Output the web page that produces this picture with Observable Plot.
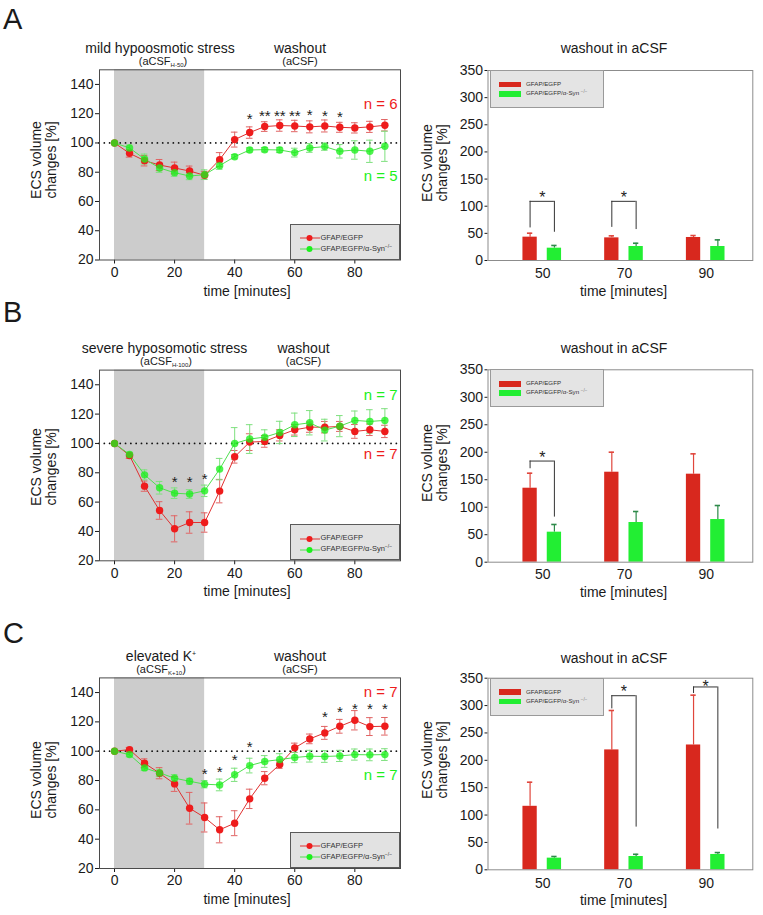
<!DOCTYPE html>
<html><head><meta charset="utf-8">
<script src="https://cdn.jsdelivr.net/npm/d3@7"></script>
<script src="https://cdn.jsdelivr.net/npm/@observablehq/plot@0.6"></script>
<style>
body{margin:0;background:#fff;}
#fig{position:relative;width:763px;height:915px;font-family:"Liberation Sans",Arial,Helvetica,sans-serif;color:#1a1a1a;overflow:hidden;background:#fff}
.t{position:absolute;white-space:nowrap;line-height:1;}
.sub{font-size:6px;vertical-align:-2px;line-height:0}
.sup{font-size:7px;vertical-align:5px;line-height:0}
.ytitle{position:absolute;white-space:nowrap;line-height:15px;font-size:14px;text-align:center;transform:translate(-50%,-50%) rotate(-90deg);}
.lleg{position:absolute;box-sizing:border-box;width:110px;height:36px;background:#e2e2e2;border:1px solid #5a5a5a;}
.rleg{position:absolute;box-sizing:border-box;width:114px;height:38px;background:#e4e4e4;border:1px solid #9a9a9a;}
.legt{position:absolute;white-space:nowrap;line-height:1;color:#333}
</style></head><body><div id="fig"></div>
<script>
const FONT = '"Liberation Sans", Arial, Helvetica, sans-serif';

// ---------- shared categories ----------
const time = [0,5,10,15,20,25,30,35,40,45,50,55,60,65,70,75,80,85,90];
const xTicksLeft = [0,20,40,60,80];
const yTicksLeft = [20,40,60,80,100,120,140];
const barTime = [50,70,90];
const yTicksRight = [0,50,100,150,200,250,300,350];
const seriesNames = ["GFAP/EGFP", "GFAP/EGFP/\u03b1-Syn"];
const koSup = "\u2212/\u2212";
const stressStart = [0];
const stressEnd = [30];

// ---------- Panel A (mild hypoosmotic stress) ----------
const A_egfp    = [100,92.9,87.9,84.9,82.9,80.8,77.9,88.6,102.3,107.1,111.2,111.9,111.6,111,111.6,110.7,110.3,111,112.1];
const A_egfpErr = [0,2.6,3.6,3.8,4,3.4,2.7,4.8,5.1,3.9,3.3,3.9,3.9,4.1,4.1,3.4,3.5,3.8,3.9];
const A_syn     = [100,96.6,89,82.9,79.7,77.4,78.3,84.5,90.6,95.2,95.4,95.2,93.4,96.6,97.5,94.3,95.2,94.3,97.7];
const A_synErr  = [0,2,3.4,3,2.5,2.5,3.3,2.5,1.5,1.5,1.5,1.8,3,3,2.5,4.6,6.3,7.6,10.3];
const A_starTime = [45,50,55,60,65,70,75];
const A_starText = ["*","**","**","**","*","*","*"];
const A_starY    = [118.7,121,121,121,121.7,121,120.3];
const A_nText = ["n = 6","n = 5"];
const A_nY    = [126.7,77.2];
const A_barEgfp = [43,41.7,42.4];
const A_barEgfpErr = [7.3,3.7,3.6];
const A_barSyn = [22.7,25.8,25.8];
const A_barSynErr = [5,6,12.2];
const A_brTime = [50,70];
const A_brLeft = [60,61];
const A_brTop = [109,109];
const A_brRight = [52,57];
const A_brStar = [123,123];

// ---------- Panel B (severe hyposmotic stress) ----------
const B_egfp    = [100,91.8,70.9,54.3,41.8,46.1,46.1,67.5,90.9,100.9,101.4,105.5,109.3,111.1,111.1,111.6,108.2,109.3,108.2];
const B_egfpErr = [0,2,3.5,6,8.9,7.3,6.6,8,4.3,5.7,4,3.8,3.6,3.5,3.9,3.4,4.7,3.9,4.2];
const B_syn     = [100,92.5,78.6,69.8,66.1,65.5,67.7,82.5,100,103,104.3,107.5,112.7,114.1,109.1,111.8,115.7,115,115.7];
const B_synErr  = [0,1.5,3.4,4.3,3.6,3,3.9,7.3,10.8,9.8,5,7.6,8,8.3,7.4,7.2,6.4,8,8];
const B_starTime = [20,25,30];
const B_starText = ["*","*","*"];
const B_starY    = [76.6,76.6,78.4];
const B_nText = ["n = 7","n = 7"];
const B_nY    = [132.7,93];
const B_barEgfp = [134.6,163.7,160.1];
const B_barEgfpErr = [27.3,36.4,37];
const B_barSyn = [54.6,72.2,77.6];
const B_barSynErr = [14,20,25.5];
const B_brTime = [50];
const B_brLeft = [170];
const B_brTop = [184];
const B_brRight = [82];
const B_brStar = [197];

// ---------- Panel C (elevated K+) ----------
const C_egfp    = [100,101.1,91.8,85,77.7,61.1,54.8,46.4,50.9,67.5,81.6,90.9,102.3,108.4,112.5,117,121.1,116.8,117];
const C_egfpErr = [0,1.5,3,3.8,5.1,10.8,9.9,8.9,8.5,6.6,4.5,2.6,3.2,3.3,4.4,4.7,6.6,6.1,6];
const C_syn     = [100,97.7,88.6,85.2,81.6,79.5,77.5,77,83.9,90.2,93,94.3,95.7,96.6,96.4,96.8,97.7,97.5,97.7];
const C_synErr  = [0,1.5,1.8,2.5,2.5,2,2.5,4,4.5,5,4,4,3.5,4,4,3.8,3.8,4,4];
const C_starTime = [30,35,40,45,70,75,80,85,90];
const C_starText = ["*","*","*","*","*","*","*","*","*"];
const C_starY    = [86.8,88.6,96.6,105.7,125.9,129.3,131.6,131.6,131.1];
const C_nText = ["n = 7","n = 7"];
const C_nY    = [140,83.9];
const C_barEgfp = [116,219,228];
const C_barEgfpErr = [44,72,91];
const C_barSyn = [21.3,24.3,28];
const C_barSynErr = [3,4,3.5];
const C_brTime = [70,90];
const C_brLeft = [294,322];
const C_brTop = [318,334];
const C_brRight = [78,74.5];
const C_brStar = [332,341];

// ---------- styles ----------
const RED = "#ee1c1c", RED_LINE = "#e03030", RED_ERR = "#e06464";
const GRN = "#1cf01c", GRN_LINE = "#4ee04e", GRN_ERR = "#7ee07e";
const BAR_RED = "#d8281e", BAR_GRN = "#22ee33", BAR_RED_ERR = "#e0463c", BAR_GRN_ERR = "#2e8a4a";
const CAP = 1.1, BCAP = 0.65, RED_C = -3.1, GRN_C = 2.85, HALF = 1.75;

const fig = document.getElementById("fig");
function put(el, left, top) { el.style.position = "absolute"; el.style.left = left + "px"; el.style.top = top + "px"; fig.appendChild(el); return el; }
function txt(html, x, base, size, opts = {}) {
  const d = document.createElement("div");
  d.className = "t";
  d.innerHTML = html;
  d.style.fontSize = size + "px";
  if (opts.color) d.style.color = opts.color;
  const anchor = opts.anchor || "middle";
  if (anchor === "middle") d.style.transform = "translateX(-50%)";
  put(d, x, base - 0.8465 * size);
  return d;
}

function errMarks(data, color) {
  const d = data.filter(r => r.e > 0);
  return [
    Plot.ruleX(d, {x: "t", y1: r => r.v - r.e, y2: r => r.v + r.e, stroke: color, strokeWidth: 1}),
    Plot.ruleY(d, {y: r => r.v + r.e, x1: r => r.t - CAP, x2: r => r.t + CAP, stroke: color, strokeWidth: 1}),
    Plot.ruleY(d, {y: r => r.v - r.e, x1: r => r.t - CAP, x2: r => r.t + CAP, stroke: color, strokeWidth: 1})
  ];
}

function leftPanel(c) {
  const egfp = time.map((t, i) => ({t, v: c.egfp[i], e: c.egfpErr[i]}));
  const syn = time.map((t, i) => ({t, v: c.syn[i], e: c.synErr[i]}));
  const stars = c.starTime.map((t, i) => ({t, y: c.starY[i], s: c.starText[i]}));
  const nl = c.nText.map((s, i) => ({s, y: c.nY[i], col: c.nColor[i]}));
  const phase = stressStart.map((s, i) => ({start: s, end: stressEnd[i]}));
  const mt = c.frameTop - c.top, fh = c.frameH, mb = 34;
  const svg = Plot.plot({
    width: 410, height: mt + fh + mb,
    marginLeft: 99, marginRight: 10, marginTop: mt, marginBottom: mb,
    style: {fontFamily: FONT, fontSize: "14px", color: "#1a1a1a", background: "transparent", overflow: "visible"},
    x: {domain: [-5, 95.2], ticks: xTicksLeft, tickSize: 4, tickPadding: 3, label: null},
    y: {domain: [20, 150], ticks: yTicksLeft, tickSize: 4, tickPadding: 2, label: null},
    marks: [
      Plot.rect(phase, {x1: "start", x2: "end", y1: 20, y2: 150, fill: "#cccccc"}),
      Plot.ruleY([100], {stroke: "#111", strokeWidth: 1.8, strokeDasharray: "0.01 5.3", strokeLinecap: "round"}),
      ...errMarks(egfp, RED_ERR),
      ...errMarks(syn, GRN_ERR),
      Plot.line(egfp, {x: "t", y: "v", stroke: RED_LINE, strokeWidth: 1}),
      Plot.line(syn, {x: "t", y: "v", stroke: GRN_LINE, strokeWidth: 1}),
      Plot.dot(egfp, {x: "t", y: "v", r: 3.7, fill: RED}),
      Plot.dot(syn, {x: "t", y: "v", r: 3.7, fill: GRN, fillOpacity: 0.78}),
      Plot.text(stars, {x: "t", y: "y", text: "s", fontSize: 15, fill: "#222", dy: 4}),
      Plot.text(nl, {y: "y", text: "s", fill: "col", frameAnchor: "right", textAnchor: "end", dx: -3, fontSize: 15}),
      Plot.frame({stroke: "#4a4a4a", strokeWidth: 1})
    ]
  });
  put(svg, 0, c.top);
  txt(c.title, c.titleX, c.frameTop - 16.5, 14);
  txt(c.sub, c.subX, c.frameTop - 4, 11);
  txt("washout", c.washX, c.frameTop - 16.5, 14);
  txt("(aCSF)", c.washX, c.frameTop - 4, 11);
  txt("time [minutes]", 247, c.frameTop + fh + 36, 14);
  const yt = document.createElement("div");
  yt.className = "ytitle";
  yt.innerHTML = "ECS volume<br>changes [%]";
  put(yt, 44, c.yTitleY);
  const lg = document.createElement("div");
  lg.className = "lleg";
  const cols = [RED, GRN], lcols = [RED_LINE, GRN_LINE];
  let h = "";
  seriesNames.forEach((n, i) => {
    const cy = 14.3 + i * 11 - 1;
    h += `<svg style="position:absolute;left:9px;top:${cy - 4}px" width="22" height="8"><line x1="0" x2="20" y1="4" y2="4" stroke="${lcols[i]}" stroke-width="1"/><circle cx="9.5" cy="4" r="3" fill="${cols[i]}"/></svg>`;
    h += `<div class="legt" style="left:30px;top:${cy - 4.2}px;font-size:7.5px">${n}${i === 1 ? `<span style="font-size:5px;vertical-align:3px;line-height:0">${koSup}</span>` : ""}</div>`;
  });
  lg.innerHTML = h;
  put(lg, 289.5, c.frameTop + fh - 36);
}

function rightPanel(c) {
  const rows = barTime.map((t, i) => ({t, a: c.egfp[i], ae: c.egfpErr[i], b: c.syn[i], be: c.synErr[i]}));
  const br = c.brTime.map((t, i) => ({t, l: c.brLeft[i], top: c.brTop[i], r: c.brRight[i], s: c.brStar[i]}));
  const mt = c.frameTop - c.top, fh = c.frameH, mb = 34;
  const svg = Plot.plot({
    width: 363, height: mt + fh + mb,
    marginLeft: 87.5, marginRight: 10.7, marginTop: mt, marginBottom: mb,
    style: {fontFamily: FONT, fontSize: "14px", color: "#1a1a1a", background: "transparent", overflow: "visible"},
    x: {domain: [36.6, 101.4], ticks: barTime, tickSize: 0, tickPadding: c.xPad, label: null},
    y: {domain: [0, 350], ticks: yTicksRight, tickSize: 3, tickPadding: 2, label: null},
    marks: [
      Plot.ruleX(rows, {x: d => d.t + RED_C, y1: "a", y2: d => d.a + d.ae, stroke: BAR_RED_ERR, strokeWidth: 1.2}),
      Plot.ruleY(rows, {y: d => d.a + d.ae, x1: d => d.t + RED_C - BCAP, x2: d => d.t + RED_C + BCAP, stroke: BAR_RED_ERR, strokeWidth: 1.6}),
      Plot.ruleX(rows, {x: d => d.t + GRN_C, y1: "b", y2: d => d.b + d.be, stroke: BAR_GRN_ERR, strokeWidth: 1.2}),
      Plot.ruleY(rows, {y: d => d.b + d.be, x1: d => d.t + GRN_C - BCAP, x2: d => d.t + GRN_C + BCAP, stroke: BAR_GRN_ERR, strokeWidth: 1.6}),
      Plot.rect(rows, {x1: d => d.t + RED_C - HALF, x2: d => d.t + RED_C + HALF, y1: 0, y2: "a", fill: BAR_RED}),
      Plot.rect(rows, {x1: d => d.t + GRN_C - HALF, x2: d => d.t + GRN_C + HALF, y1: 0, y2: "b", fill: BAR_GRN}),
      Plot.ruleX(br, {x: d => d.t + RED_C, y1: "l", y2: "top", stroke: "#333", strokeWidth: 1}),
      Plot.ruleX(br, {x: d => d.t + GRN_C, y1: "r", y2: "top", stroke: "#333", strokeWidth: 1}),
      Plot.ruleY(br, {y: "top", x1: d => d.t + RED_C, x2: d => d.t + GRN_C, stroke: "#333", strokeWidth: 1}),
      Plot.text(br, {x: d => d.t + (RED_C + GRN_C) / 2, y: "s", text: () => "*", fontSize: 16, fill: "#222", dy: 4}),
      Plot.frame({stroke: "#8c8c8c", strokeWidth: 1})
    ]
  });
  put(svg, 400, c.top);
  txt("washout in aCSF", 614, c.titleBase, 14);
  txt("time [minutes]", 623.5, c.xTitleBase, 14);
  const yt = document.createElement("div");
  yt.className = "ytitle";
  yt.innerHTML = "ECS volume<br>changes [%]";
  put(yt, 434.5, c.yTitleY);
  const lg = document.createElement("div");
  lg.className = "rleg";
  const cols = [BAR_RED, BAR_GRN];
  let h = "";
  seriesNames.forEach((n, i) => {
    const cy = 13.5 + i * 9.3;
    h += `<div style="position:absolute;left:7.5px;top:${cy - 2.8}px;width:22px;height:5.6px;background:${cols[i]}"></div>`;
    h += `<div class="legt" style="left:35px;top:${cy - 3.6}px;font-size:6.2px">${n}${i === 1 ? ` <span style="font-size:4.5px;vertical-align:2.5px;line-height:0;color:#777">${koSup}</span>` : ""}</div>`;
  });
  lg.innerHTML = h;
  put(lg, 490, c.frameTop);
}

// panel letters
txt("A", 3, 30, 29, {anchor: "start"});
txt("B", 3, 323, 29, {anchor: "start"});
txt("C", 3, 644, 29, {anchor: "start"});

leftPanel({top: 60, frameTop: 69.3, frameH: 190.2, egfp: A_egfp, egfpErr: A_egfpErr, syn: A_syn, synErr: A_synErr,
  starTime: A_starTime, starText: A_starText, starY: A_starY, nText: A_nText, nY: A_nY, nColor: [RED, GRN],
  title: "mild hypoosmotic stress", titleX: 160, sub: "(aCSF<span class='sub'>H-50</span>)", subX: 163, washX: 300, yTitleY: 160});
leftPanel({top: 360, frameTop: 369.6, frameH: 190.7, egfp: B_egfp, egfpErr: B_egfpErr, syn: B_syn, synErr: B_synErr,
  starTime: B_starTime, starText: B_starText, starY: B_starY, nText: B_nText, nY: B_nY, nColor: [GRN, RED],
  title: "severe hyposomotic stress", titleX: 164.5, sub: "(aCSF<span class='sub'>H-100</span>)", subX: 166, washX: 303.5, yTitleY: 467});
leftPanel({top: 668, frameTop: 677.4, frameH: 190.6, egfp: C_egfp, egfpErr: C_egfpErr, syn: C_syn, synErr: C_synErr,
  starTime: C_starTime, starText: C_starText, starY: C_starY, nText: C_nText, nY: C_nY, nColor: [RED, GRN],
  title: "elevated K<span class='sup'>+</span>", titleX: 161, sub: "(aCSF<span class='sub'>K+10</span>)", subX: 161, washX: 300, yTitleY: 780});

rightPanel({top: 60, frameTop: 70, frameH: 190, xPad: 8, egfp: A_barEgfp, egfpErr: A_barEgfpErr, syn: A_barSyn, synErr: A_barSynErr,
  brTime: A_brTime, brLeft: A_brLeft, brTop: A_brTop, brRight: A_brRight, brStar: A_brStar, titleBase: 52.7, xTitleBase: 296, yTitleY: 163});
rightPanel({top: 360, frameTop: 369.3, frameH: 192.4, xPad: 7, egfp: B_barEgfp, egfpErr: B_barEgfpErr, syn: B_barSyn, synErr: B_barSynErr,
  brTime: B_brTime, brLeft: B_brLeft, brTop: B_brTop, brRight: B_brRight, brStar: B_brStar, titleBase: 353.3, xTitleBase: 597, yTitleY: 463});
rightPanel({top: 668, frameTop: 677.7, frameH: 191.6, xPad: 8, egfp: C_barEgfp, egfpErr: C_barEgfpErr, syn: C_barSyn, synErr: C_barSynErr,
  brTime: C_brTime, brLeft: C_brLeft, brTop: C_brTop, brRight: C_brRight, brStar: C_brStar, titleBase: 662.7, xTitleBase: 905, yTitleY: 760});
</script></body></html>
